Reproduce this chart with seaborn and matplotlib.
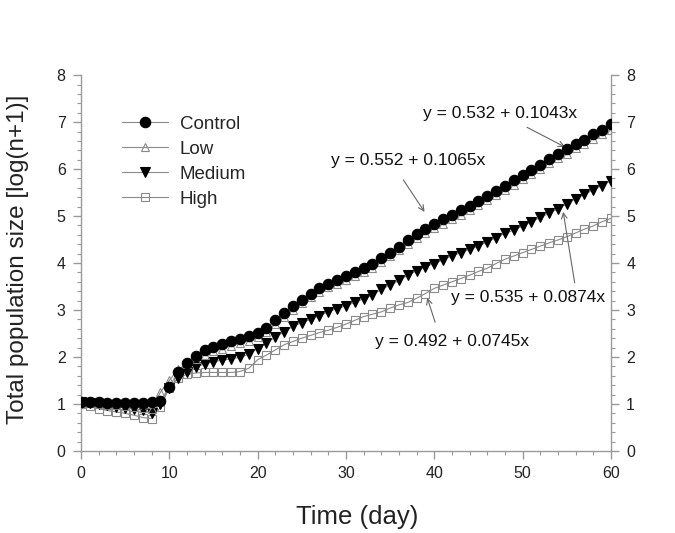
import numpy as np
import matplotlib
matplotlib.use("Agg")
import matplotlib.pyplot as plt
import seaborn as sns
from matplotlib.ticker import MultipleLocator

# ---------------------------------------------------------
# Data
# ---------------------------------------------------------
days = list(range(61))

control = [1.04, 1.04, 1.04, 1.03, 1.03, 1.03, 1.03, 1.03, 1.04, 1.06,
           1.36, 1.69, 1.88, 2.03, 2.15, 2.22, 2.28, 2.34, 2.39, 2.44,
           2.50, 2.62, 2.79, 2.94, 3.08, 3.22, 3.35, 3.46, 3.56, 3.64,
           3.72, 3.80, 3.89, 3.98, 4.10, 4.22, 4.35, 4.50, 4.62, 4.72,
           4.83, 4.93, 5.02, 5.12, 5.21, 5.32, 5.43, 5.54, 5.64, 5.76,
           5.87, 5.98, 6.09, 6.21, 6.32, 6.42, 6.53, 6.63, 6.74, 6.84,
           6.95]

low = [1.02, 1.01, 1.00, 0.98, 0.97, 0.95, 0.94, 0.92, 0.90, 1.25,
       1.50, 1.74, 1.85, 1.95, 2.05, 2.12, 2.18, 2.24, 2.30, 2.35,
       2.42, 2.54, 2.70, 2.85, 3.00, 3.14, 3.27, 3.38, 3.48, 3.56,
       3.64, 3.72, 3.81, 3.90, 4.02, 4.14, 4.27, 4.41, 4.53, 4.63,
       4.74, 4.84, 4.93, 5.03, 5.12, 5.23, 5.34, 5.45, 5.55, 5.67,
       5.78, 5.89, 6.00, 6.12, 6.23, 6.33, 6.44, 6.54, 6.65, 6.75,
       6.84]

medium = [1.04, 1.02, 1.00, 0.97, 0.94, 0.92, 0.89, 0.87, 0.81, 1.00,
          1.35, 1.55, 1.69, 1.79, 1.85, 1.90, 1.93, 1.96, 1.99, 2.06,
          2.18, 2.30, 2.42, 2.54, 2.65, 2.73, 2.80, 2.88, 2.96, 3.03,
          3.09, 3.16, 3.24, 3.32, 3.44, 3.53, 3.63, 3.74, 3.83, 3.92,
          3.99, 4.07, 4.15, 4.22, 4.29, 4.36, 4.45, 4.54, 4.63, 4.70,
          4.79, 4.88, 4.97, 5.06, 5.15, 5.26, 5.37, 5.46, 5.56, 5.65,
          5.75]

high = [1.00, 0.95, 0.90, 0.86, 0.83, 0.80, 0.76, 0.71, 0.69, 0.93,
        1.35, 1.55, 1.63, 1.66, 1.67, 1.67, 1.67, 1.67, 1.69, 1.76,
        1.94, 2.04, 2.15, 2.26, 2.33, 2.40, 2.46, 2.52, 2.57, 2.63,
        2.70, 2.78, 2.86, 2.91, 2.96, 3.04, 3.11, 3.16, 3.25, 3.35,
        3.46, 3.53, 3.60, 3.67, 3.74, 3.82, 3.89, 3.99, 4.08, 4.15,
        4.22, 4.29, 4.36, 4.43, 4.49, 4.56, 4.64, 4.72, 4.79, 4.88,
        4.95]

series_names = ["Control", "Low", "Medium", "High"]

# regression labels: text, text position, arrow tail, arrow head (data coords)
fit_labels = ["y = 0.532 + 0.1043x", "y = 0.552 + 0.1065x",
              "y = 0.535 + 0.0874x", "y = 0.492 + 0.0745x"]
fit_text_xy = [(47.4, 7.19), (37.1, 6.19), (50.6, 3.26), (42.0, 2.32)]
fit_arrow_tail = [(50.5, 6.89), (36.5, 5.77), (55.9, 3.58), (40.1, 2.74)]
fit_arrow_head = [(54.8, 6.47), (38.9, 5.09), (54.6, 5.09), (39.2, 3.26)]

# ---------------------------------------------------------
# Plot
# ---------------------------------------------------------
sns.set_style("white")
plt.rcParams["font.family"] = ["Liberation Sans", "DejaVu Sans"]

fig = plt.figure(figsize=(6.75, 5.33), dpi=100)
ax = fig.add_axes([0.12, 0.154, 0.785, 0.705])

line_color = "#8a8a8a"
styles = {
    "Control": dict(marker="o", markersize=7.5, markerfacecolor="black",
                    markeredgecolor="black", zorder=5),
    "Low": dict(marker="^", markersize=6.2, markerfacecolor="none",
                markeredgecolor="#8a8a8a", zorder=4),
    "Medium": dict(marker="v", markersize=7, markerfacecolor="black",
                   markeredgecolor="black", zorder=3),
    "High": dict(marker="s", markersize=6.2, markerfacecolor="none",
                 markeredgecolor="#8a8a8a", zorder=2),
}

for name, values in zip(series_names, [control, low, medium, high]):
    sns.lineplot(x=days, y=values, ax=ax, color=line_color, linewidth=0.8,
                 markeredgewidth=0.8, label=name, **styles[name])

# regression equations with arrows
for text, txy, tail, head in zip(fit_labels, fit_text_xy, fit_arrow_tail, fit_arrow_head):
    ax.text(txy[0], txy[1], text, fontsize=12.5, ha="center", va="center", color="#111111")
    ax.annotate("", xy=head, xytext=tail,
                arrowprops=dict(arrowstyle="->", color="#666666", lw=0.8,
                                shrinkA=0, shrinkB=0))

ax.set_xlim(0, 60)
ax.set_ylim(0, 8)
ax.xaxis.set_major_locator(MultipleLocator(10))
ax.xaxis.set_minor_locator(MultipleLocator(2))
ax.yaxis.set_major_locator(MultipleLocator(1))
ax.yaxis.set_minor_locator(MultipleLocator(0.2))

axis_gray = "#9a9a9a"
for side in ["left", "bottom", "right"]:
    ax.spines[side].set_visible(True)
    ax.spines[side].set_color(axis_gray)
    ax.spines[side].set_linewidth(1.0)
ax.spines["top"].set_visible(False)

ax.tick_params(which="both", direction="out", color=axis_gray,
               left=True, bottom=True, right=True, labelright=True)
ax.tick_params(which="major", length=6, width=1.0, labelsize=11.5,
               labelcolor="#222222", pad=5)
ax.tick_params(which="minor", length=3, width=0.8)

ax.set_xlabel("Time (day)", fontsize=18.5, color="#222222", labelpad=17, x=0.521)
ax.set_ylabel("Total population size [log(n+1)]", fontsize=17.5, color="#222222",
              labelpad=20, y=0.51)

ax.legend(loc="upper left", bbox_to_anchor=(0.077, 0.892), frameon=False,
          fontsize=13.5, handlelength=2.45, handletextpad=0.64, labelspacing=0.42,
          borderaxespad=0, borderpad=0)

fig.savefig("out.png", dpi=100)
